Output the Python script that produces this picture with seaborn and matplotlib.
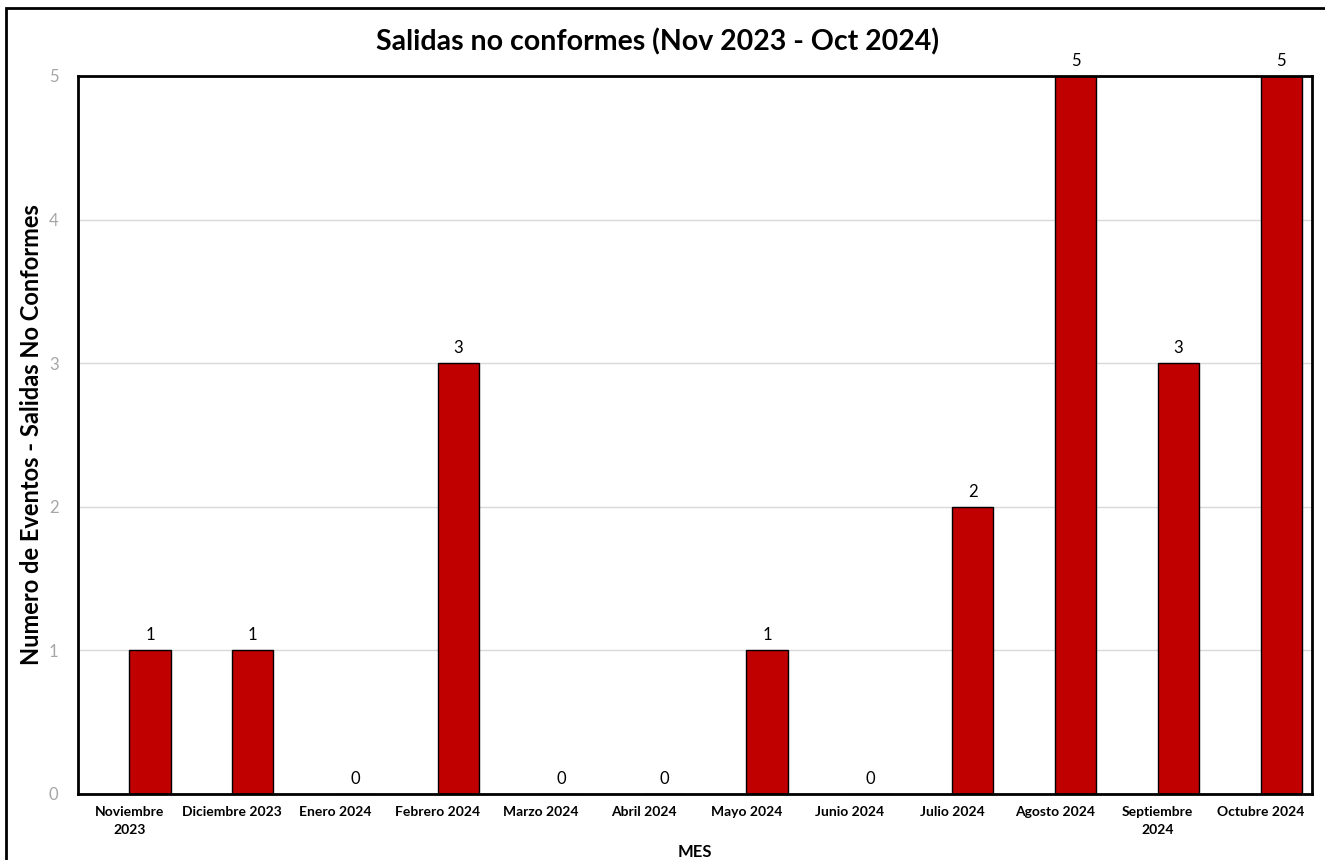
import matplotlib
matplotlib.use("Agg")
import matplotlib.pyplot as plt
import seaborn as sns
import pandas as pd
import numpy as np
from matplotlib.patches import Rectangle

months = ["Noviembre\n2023", "Diciembre 2023", "Enero 2024", "Febrero 2024", "Marzo 2024",
          "Abril 2024", "Mayo 2024", "Junio 2024", "Julio 2024", "Agosto 2024",
          "Septiembre\n2024", "Octubre 2024"]
values = [1, 1, 0, 3, 0, 0, 1, 0, 2, 5, 3, 5]
yticks = [0, 1, 2, 3, 4, 5]

sns.set_theme(style="white")
FONT = ["Lato", "DejaVu Sans"]
plt.rcParams["font.family"] = FONT
plt.rcParams["text.color"] = "black"
plt.rcParams["axes.labelcolor"] = "black"
plt.rcParams["xtick.color"] = "black"

df = pd.DataFrame({
    "mes": months * 2,
    "serie": ["_blank"] * len(months) + ["Salidas"] * len(months),
    "valor": [np.nan] * len(months) + values,
})

fig = plt.figure(figsize=(13.25, 8.6), dpi=100)
ax = fig.add_axes([78 / 1325, 1 - 794 / 860, (1312 - 78) / 1325, (794 - 76) / 860])

sns.barplot(data=df, x="mes", y="valor", hue="serie", order=months,
            hue_order=["_blank", "Salidas"], palette=["#C00000", "#C00000"],
            saturation=1, width=0.8, dodge=True, edgecolor="black", linewidth=1.0,
            legend=False, ax=ax, errorbar=None)

cont = ax.containers[-1]
ax.bar_label(cont, labels=[str(v) for v in values], padding=5, fontsize=12, color="black")

ax.set_ylim(0, 5)
ax.set_xlim(-0.5, len(months) - 0.5)
ax.set_yticks(yticks)
ax.set_yticklabels([str(t) for t in yticks], color="#A6A6A6", fontsize=12)
ax.tick_params(axis="y", length=0, pad=14)
ax.tick_params(axis="x", length=0, pad=9)
for lbl in ax.get_xticklabels():
    lbl.set_fontweight("bold")
    lbl.set_fontsize(10)
    lbl.set_color("black")
    lbl.set_linespacing(1.5)
ax.yaxis.grid(True, color="#D9D9D9", linewidth=1)
ax.set_axisbelow(True)
for s in ax.spines.values():
    s.set_visible(True)
    s.set_color("black")
    s.set_linewidth(2)

ax.set_xlabel("MES", fontsize=12, fontweight="bold", labelpad=6)
ax.set_ylabel("Numero de Eventos - Salidas No Conformes", fontsize=17, fontweight="bold", labelpad=4)

fig.text(657 / 1325, 1 - 42 / 860, "Salidas no conformes (Nov 2023 - Oct 2024)",
         ha="center", va="center", fontsize=20.5, fontweight="bold", color="black")

fig.patches.append(Rectangle((6 / 1325, -0.1), 1.2, 1 - 8 / 860 + 0.1,
                             transform=fig.transFigure, fill=False,
                             edgecolor="black", linewidth=2, figure=fig))

fig.savefig("out.png", dpi=100)
